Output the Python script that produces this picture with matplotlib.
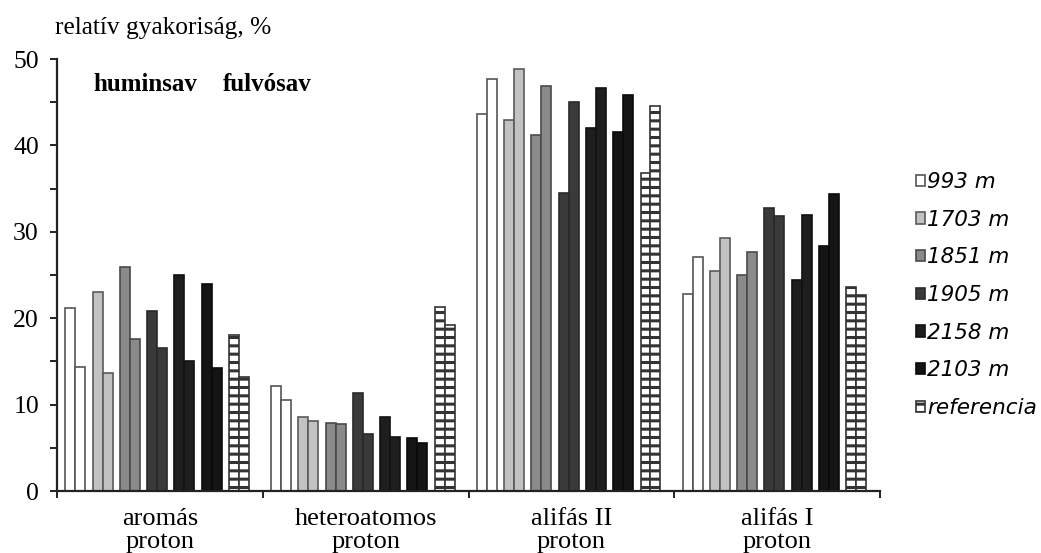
import numpy as np
import matplotlib
matplotlib.use("Agg")
import matplotlib.pyplot as plt
from matplotlib.patches import Patch

# Proton categories (x axis) and sampling depths (series)
categories = ["aromás\nproton", "heteroatomos\nproton", "alifás II\nproton", "alifás I\nproton"]
series = ["993 m", "1703 m", "1851 m", "1905 m", "2158 m", "2103 m", "referencia"]

# Relative frequencies (%) per category: humic acid (huminsav) and fulvic acid (fulvósav)
huminsav = {
    "993 m":      [21.2, 12.2, 43.6, 22.8],
    "1703 m":     [23.0,  8.6, 42.9, 25.5],
    "1851 m":     [25.9,  7.9, 41.2, 25.0],
    "1905 m":     [20.8, 11.4, 34.5, 32.7],
    "2158 m":     [25.0,  8.6, 42.0, 24.4],
    "2103 m":     [24.0,  6.1, 41.6, 28.3],
    "referencia": [18.1, 21.3, 36.8, 23.6],
}
fulvosav = {
    "993 m":      [14.3, 10.5, 47.7, 27.1],
    "1703 m":     [13.7,  8.1, 48.8, 29.3],
    "1851 m":     [17.6,  7.7, 46.9, 27.7],
    "1905 m":     [16.5,  6.6, 45.0, 31.8],
    "2158 m":     [15.1,  6.3, 46.6, 32.0],
    "2103 m":     [14.2,  5.5, 45.8, 34.4],
    "referencia": [13.2, 19.2, 44.6, 22.7],
}

fills = ["#ffffff", "#c2c2c2", "#8a8a8a", "#3a3a3a", "#1e1e1e", "#141414", "#ffffff"]
edges = ["#555555", "#5a5a5a", "#4a4a4a", "#2a2a2a", "#111111", "#0a0a0a", "#333333"]
hatches = [None, None, None, None, None, None, "--"]

plt.rcParams["hatch.linewidth"] = 2.2
plt.rcParams["hatch.color"] = "#1a1a1a"
serif = "Liberation Serif"

fig = plt.figure(figsize=(10.41, 5.53), dpi=100)
ax = fig.add_axes([57 / 1041, 62 / 553, (880 - 57) / 1041, (491 - 59) / 553])

x = np.arange(len(categories))
bar_w = 0.0485
step = 0.1325
center = 0.487

for j, name in enumerate(series):
    pc = x + center + (j - 3) * step
    for k, vals in enumerate((huminsav[name], fulvosav[name])):
        pos = pc + (k - 0.5) * bar_w
        ax.bar(pos, vals, width=bar_w, color=fills[j], edgecolor=edges[j],
               linewidth=1.2, hatch=hatches[j], zorder=2)

ax.set_xlim(0, 4)
ax.set_ylim(0, 50)

for s in ("top", "right"):
    ax.spines[s].set_visible(False)
for s in ("left", "bottom"):
    ax.spines[s].set_linewidth(1.6)
    ax.spines[s].set_color("#222222")

ax.set_yticks(np.arange(0, 51, 10))
ax.set_yticks(np.arange(5, 50, 10), minor=True)
ax.tick_params(axis="y", which="both", direction="out", length=5, width=1.4,
               color="#222222", pad=8)
ax.tick_params(axis="y", which="major", labelsize=18.5)
for t in ax.get_yticklabels():
    t.set_fontfamily(serif)

ax.set_xticks(np.arange(0, 5))
ax.set_xticklabels([])
ax.set_xticks(x + 0.5, minor=True)
ax.set_xticklabels(categories, minor=True, fontsize=19, fontfamily=serif,
                   linespacing=1.08)
ax.tick_params(axis="x", which="major", direction="out", length=5, width=1.4,
               color="#222222")
ax.tick_params(axis="x", which="minor", length=0, pad=12)

fig.text(55 / 1041, 1 - 34 / 553, "relatív gyakoriság, %", fontsize=18.3,
         fontfamily=serif, ha="left", va="baseline")
fig.text(93 / 1041, 1 - 91 / 553, "huminsav", fontsize=18, fontweight="bold",
         fontfamily=serif, ha="left", va="baseline")
fig.text(223 / 1041, 1 - 91 / 553, "fulvósav", fontsize=18, fontweight="bold",
         fontfamily=serif, ha="left", va="baseline")

handles = [Patch(facecolor=fills[j], edgecolor=edges[j], linewidth=1.2,
                 hatch=hatches[j]) for j in range(len(series))]
leg = fig.legend(handles, series, loc="upper left",
                 bbox_to_anchor=(916 / 1041, 1 - 172 / 553), frameon=False,
                 handlelength=0.42, handleheight=0.42, handletextpad=0.1,
                 labelspacing=0.82, borderaxespad=0, borderpad=0,
                 prop={"family": "DejaVu Sans", "style": "italic", "size": 15.5})

fig.savefig("out.png", dpi=100)
